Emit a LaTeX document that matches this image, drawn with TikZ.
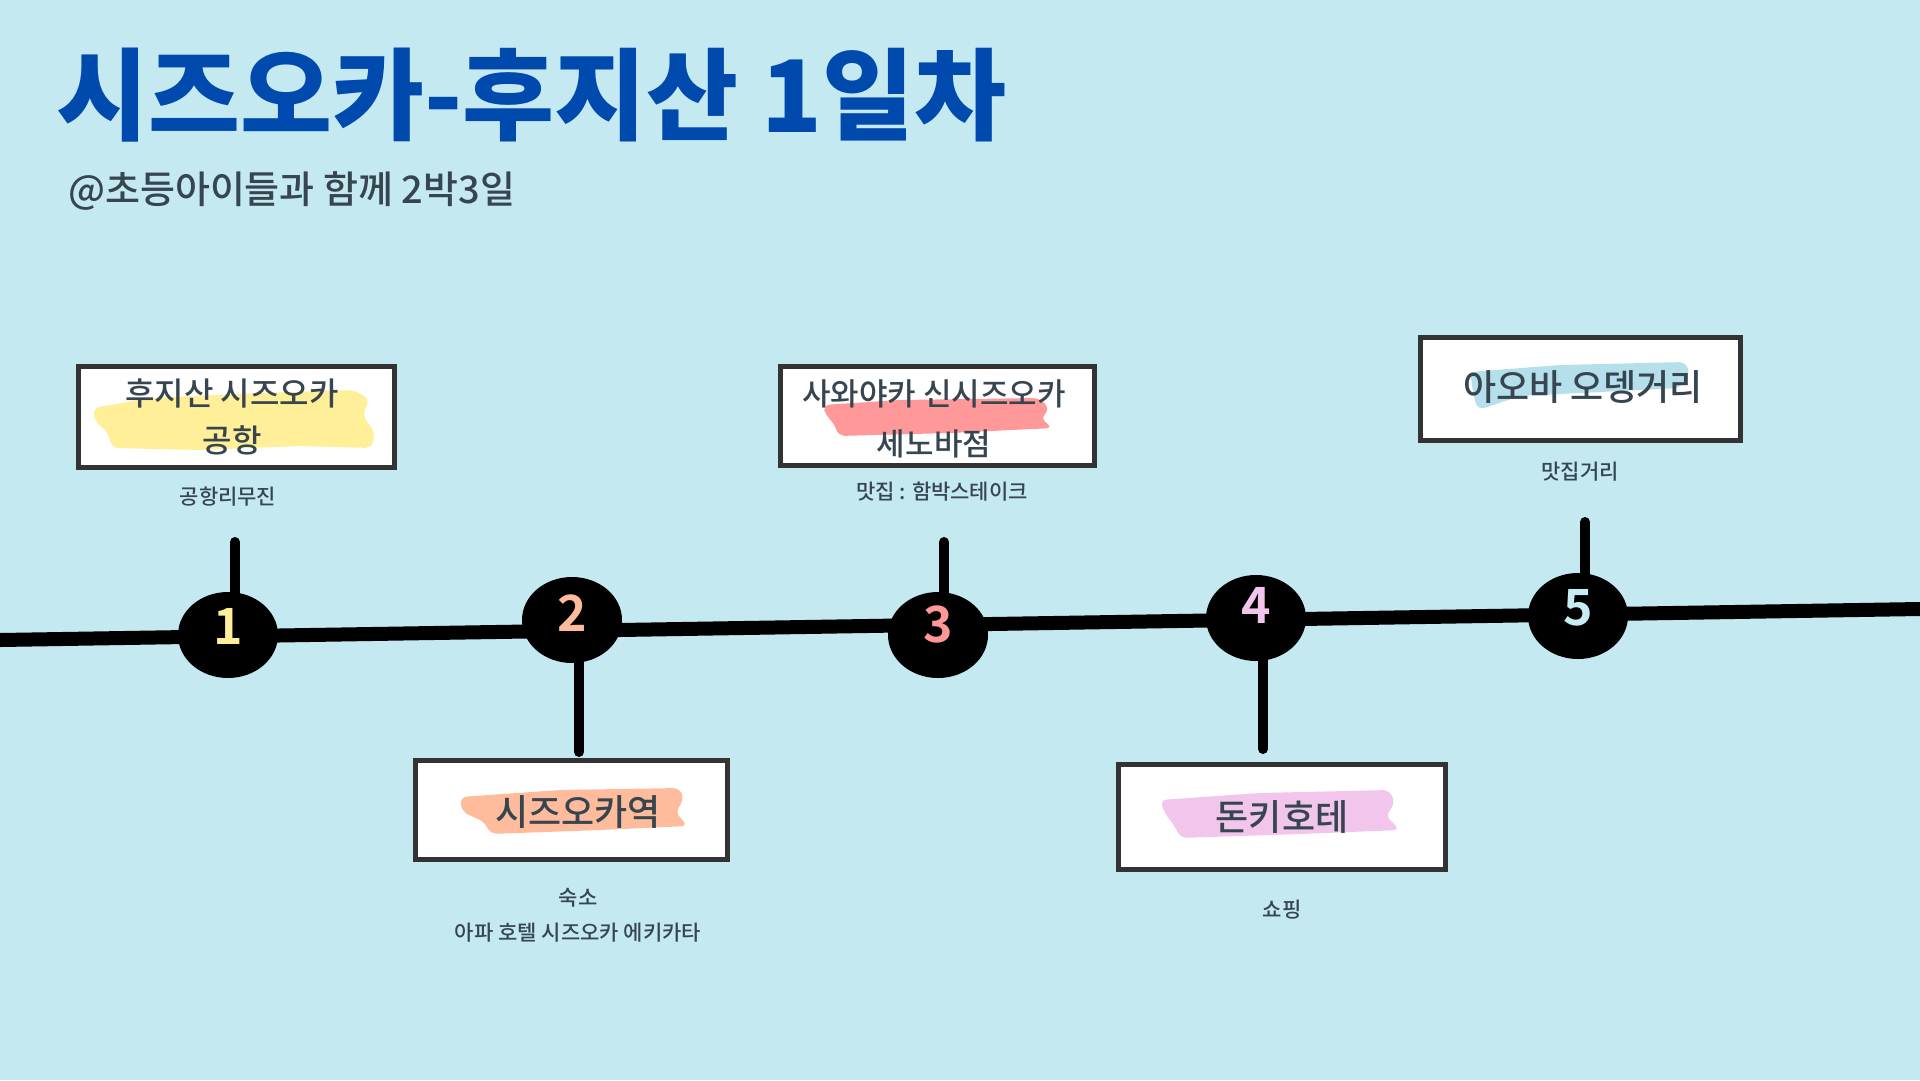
\documentclass[tikz,border=0pt]{standalone}
\usepackage{fontspec}
\usetikzlibrary{shapes.geometric,backgrounds}
\newfontfamily\titlefont{Noto Sans CJK KR Black}
\newfontfamily\cjk{Noto Sans CJK KR Medium}
\newfontfamily\cjkbold{Noto Sans CJK KR Bold}
\definecolor{bgblue}{HTML}{C4E9F1}
\definecolor{titleblue}{HTML}{004AAD}
\definecolor{ink}{HTML}{36454F}
\definecolor{boxline}{HTML}{333333}
\definecolor{hlyellow}{HTML}{FFEF99}
\definecolor{hlpeach}{HTML}{FFBC9C}
\definecolor{hlsalmon}{HTML}{FF9898}
\definecolor{hlpink}{HTML}{F2C5EC}
\definecolor{hlblue}{HTML}{B4DFEB}
\definecolor{numblue}{HTML}{C8ECF4}
\tikzset{
	placebox/.style={rectangle, draw=boxline, fill=white, line width=5pt, inner sep=0pt},
	placetext/.style={align=center, text=ink, font=\cjk\fontsize{32}{47}\selectfont},
	stopnote/.style={align=center, text=ink, font=\cjk\fontsize{21}{35}\selectfont},
	stopdot/.style={ellipse, fill=black, minimum width=100pt, minimum height=86pt, inner sep=0pt},
	stopnum/.style={inner sep=0pt, font=\cjkbold\fontsize{50}{50}\selectfont},
	timeline/.style={line width=14pt, black},
	stalk/.style={line width=10pt, black, line cap=round},
	brush/.style={rounded corners=7pt}
}

\begin{document}
\begin{tikzpicture}[x=1pt, y=-1pt]
	\useasboundingbox (0,0) rectangle (1920,1080);

	\node[anchor=west, inner sep=0pt, text=titleblue, font=\titlefont\fontsize{100}{100}\selectfont] (title) at (56,95) {시즈오카-후지산 1일차};
	\node[anchor=west, inner sep=0pt, text=ink, font=\cjk\fontsize{38}{38}\selectfont] (subtitle) at (68,191) {@초등아이들과 함께 2박3일};

	% stops on the line
	\node[stopdot] (c1) at (228,635) {};
	\node[stopdot] (c2) at (572,620) {};
	\node[stopdot] (c3) at (938,635) {};
	\node[stopdot] (c4) at (1256,618) {};
	\node[stopdot] (c5) at (1578,616) {};
	\node[stopnum, text=hlyellow] at ([yshift=9pt]c1.center) (n1) {1};
	\node[stopnum, text=hlpeach] at ([yshift=7pt]c2.center) (n2) {2};
	\node[stopnum, text=hlsalmon] at ([yshift=11pt]c3.center) (n3) {3};
	\node[stopnum, text=hlpink] at ([yshift=13pt]c4.center) (n4) {4};
	\node[stopnum, text=numblue] at ([yshift=8pt]c5.center) (n5) {5};

	% boxes
	\node[placebox, minimum width=316pt, minimum height=101pt] (b1) at (236,417) {};
	\node[placebox, minimum width=312pt, minimum height=99pt] (b2) at (571,810) {};
	\node[placebox, minimum width=314pt, minimum height=99pt] (b3) at (937,416) {};
	\node[placebox, minimum width=320pt, minimum height=103pt] (b4) at (1580,389) {};
	\node[placebox, minimum width=327pt, minimum height=105pt] (b5) at (1282,817) {};

	% brush strokes behind the names
	\fill[brush, hlyellow] (93,408) -- (150,398) -- (260,393) -- (355,390) -- (370,400) -- (362,415) -- (375,432) -- (372,448) -- (300,446) -- (200,450) -- (112,448) -- (108,432) -- (95,422) -- cycle;
	\fill[brush, hlpeach] (460,797) -- (560,790) -- (680,788) -- (684,800) -- (675,812) -- (688,826) -- (600,830) -- (490,834) -- (485,822) -- (462,812) -- cycle;
	\fill[brush, hlsalmon] (823,405) -- (900,400) -- (1040,398) -- (1050,410) -- (1040,418) -- (1053,428) -- (950,433) -- (838,436) -- (835,424) -- (826,416) -- cycle;
	\fill[brush, hlblue] (1470,372) -- (1560,365) -- (1686,362) -- (1690,375) -- (1680,388) -- (1600,392) -- (1520,396) -- (1478,410) -- (1474,398) -- (1472,385) -- cycle;
	\fill[brush, hlpink] (1160,800) -- (1260,793) -- (1390,790) -- (1395,805) -- (1385,815) -- (1400,830) -- (1300,834) -- (1180,838) -- (1175,826) -- (1165,814) -- cycle;

	\node[placetext] (t1) at (232,417) {후지산 시즈오카\\공항};
	\node[placetext, font=\cjk\fontsize{36}{36}\selectfont] (t2) at (578,812) {시즈오카역};
	\node[placetext, font=\cjk\fontsize{31}{50}\selectfont] (t3) at (934,419) {사와야카 신시즈오카\\세노바점};
	\node[placetext, font=\cjk\fontsize{36}{36}\selectfont] (t4) at (1583,387) {아오바 오뎅거리};
	\node[placetext, font=\cjk\fontsize{36}{36}\selectfont] (t5) at (1282,817) {돈키호테};

	\node[stopnote] at ([yshift=-80pt, xshift=-8pt]b1.center) (u1) {공항리무진};
	\node[stopnote] at ([yshift=-105pt, xshift=7pt]b2.center) (u2) {숙소\\아파 호텔 시즈오카 에키카타};
	\node[stopnote] at ([yshift=-76pt, xshift=5pt]b3.center) (u3) {맛집 : 함박스테이크};
	\node[stopnote] at ([yshift=-83pt]b4.center) (u4) {맛집거리};
	\node[stopnote] at ([yshift=-93pt]b5.center) (u5) {쇼핑};

	\coordinate (s1) at (235,542);
	\coordinate (s2) at (579,752);
	\coordinate (s3) at (944,542);
	\coordinate (s4) at (1263,749);
	\coordinate (s5) at (1585,522);
	\coordinate (tlstart) at (0,640);
	\coordinate (tlend) at (1920,609);

	\begin{scope}[on background layer]
		\fill[bgblue] (0,0) rectangle (1920,1080);
		\draw[timeline] (tlstart) -- (tlend);
		\foreach \s/\c in {s1/c1, s2/c2, s3/c3, s4/c4, s5/c5}{
			\draw[stalk] (\s) -- (\s |- \c.center);
		}
	\end{scope}
\end{tikzpicture}
\end{document}
